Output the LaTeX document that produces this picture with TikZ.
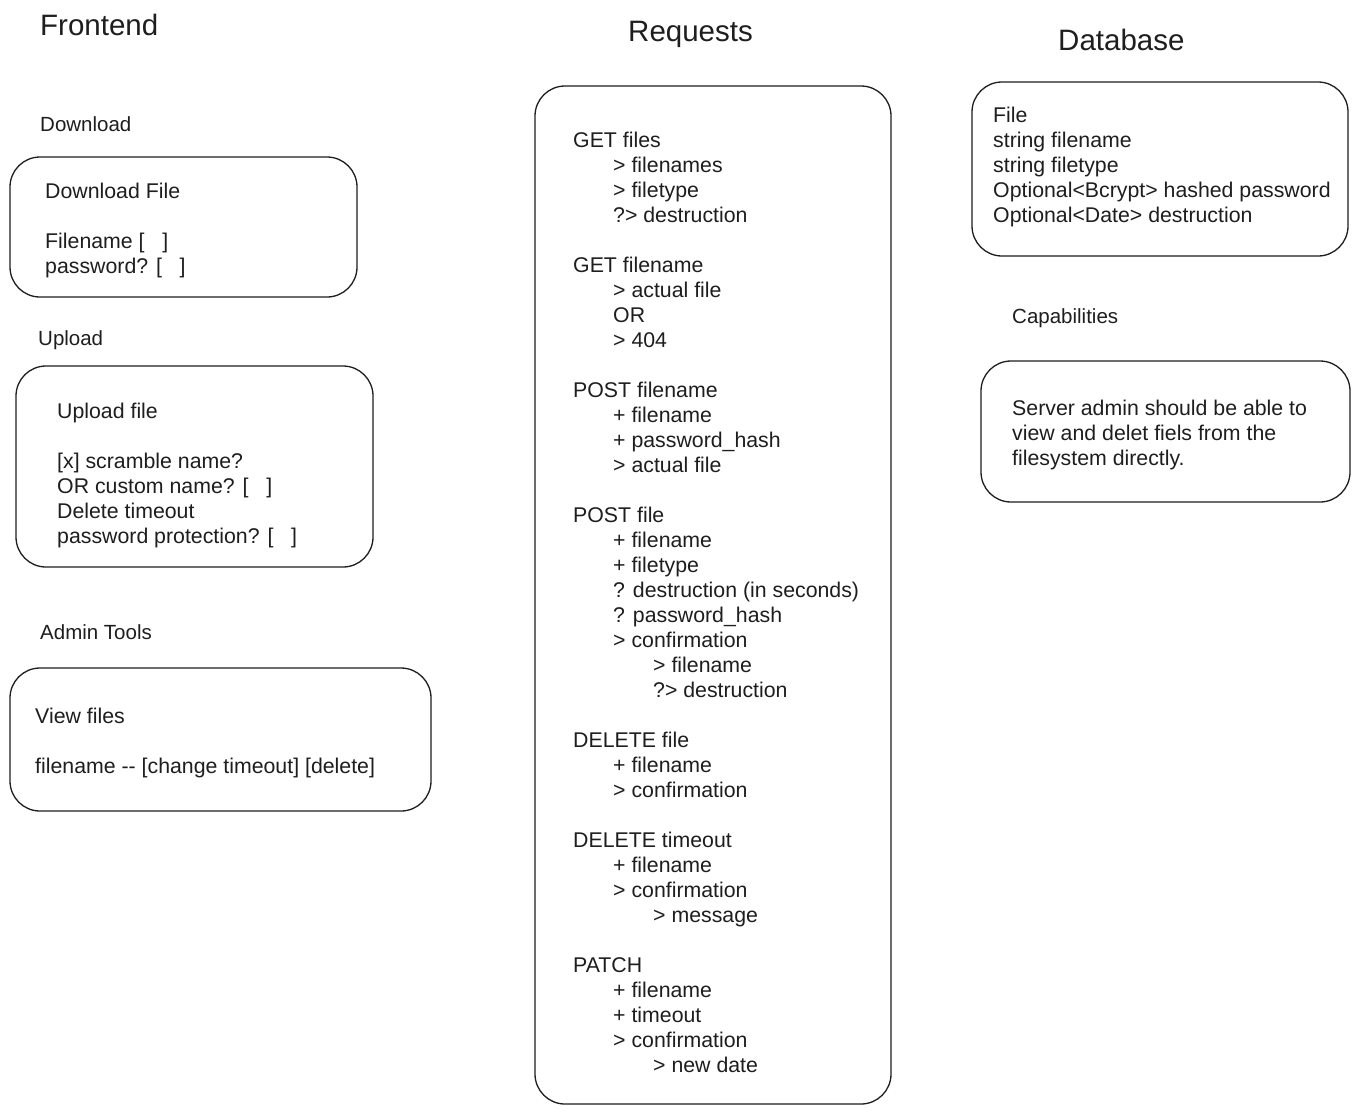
\documentclass[tikz,border=0pt]{standalone}
\usepackage{fontspec}
\setmainfont{Liberation Sans}
\definecolor{ink}{HTML}{1E1E1E}
\begin{document}
\begin{tikzpicture}[x=1pt,y=-1pt,
  panel/.style={draw=ink, line width=1.3pt, rounded corners=30pt},
  body/.style={anchor=north west, inner sep=0pt, align=left, text=ink,
    yshift=14.5pt, font=\fontsize{21.3}{25}\selectfont, execute at begin node=\strut},
  title/.style={anchor=base west, inner sep=0pt, text=ink, font=\fontsize{29.5}{34}\selectfont},
  label/.style={anchor=base west, inner sep=0pt, text=ink, font=\fontsize{20.5}{24}\selectfont}]
\newcommand{\ind}{\hspace*{40pt}}
\useasboundingbox (0,0) rectangle (1359,1114);
\fill[white] (0,0) rectangle (1359,1114);

% column headings
\node[title] (hfront) at (40,35) {Frontend};
\node[title] (hreq) at (628,41) {Requests};
\node[title] (hdb) at (1058,50) {Database};

% frontend: download
\node[label] (ldown) at (40,131) {Download};
\draw[panel] (10,157) rectangle (357,297);
\node[body] (tdown) at (45,197) {Download File\\ \mbox{}\\ Filename [~~~]\\ password? [~~~]};

% frontend: upload
\node[label] (lup) at (38,345) {Upload};
\draw[panel] (16,366) rectangle (373,567);
\node[body] (tup) at (57,417) {Upload file\\ \mbox{}\\ {[}x{]} scramble name?\\ OR custom name? [~~~]\\ Delete timeout\\ password protection? [~~~]};

% frontend: admin tools
\node[label] (ladmin) at (40,639) {Admin Tools};
\draw[panel] (10,668) rectangle (431,811);
\node[body] (tadmin) at (35,722) {View files\\ \mbox{}\\ filename -{}- [change timeout] [delete]};

% request list
\draw[panel] (535,86) rectangle (891,1104);
\node[body] (treq) at (573,146) {GET files\\
\ind > filenames\\
\ind > filetype\\
\ind ?> destruction\\ \mbox{}\\
GET filename\\
\ind > actual file\\
\ind OR\\
\ind > 404\\ \mbox{}\\
POST filename\\
\ind + filename\\
\ind + password\_hash\\
\ind > actual file\\ \mbox{}\\
POST file\\
\ind + filename\\
\ind + filetype\\
\ind ? destruction (in seconds)\\
\ind ? password\_hash\\
\ind > confirmation\\
\ind\ind > filename\\
\ind\ind ?> destruction\\ \mbox{}\\
DELETE file\\
\ind + filename\\
\ind > confirmation\\ \mbox{}\\
DELETE timeout\\
\ind + filename\\
\ind > confirmation\\
\ind\ind > message\\ \mbox{}\\
PATCH\\
\ind + filename\\
\ind + timeout\\
\ind > confirmation\\
\ind\ind > new date};

% database model
\draw[panel] (972,82) rectangle (1348,256);
\node[body] (tdb) at (993,121) {File\\ string filename\\ string filetype\\ Optional<Bcrypt> hashed password\\ Optional<Date> destruction};

% capabilities
\node[label] (lcap) at (1012,323) {Capabilities};
\draw[panel] (981,361) rectangle (1350,502);
\node[body] (tcap) at (1012,414) {Server admin should be able to\\ view and delet fiels from the\\ filesystem directly.};
\end{tikzpicture}
\end{document}
